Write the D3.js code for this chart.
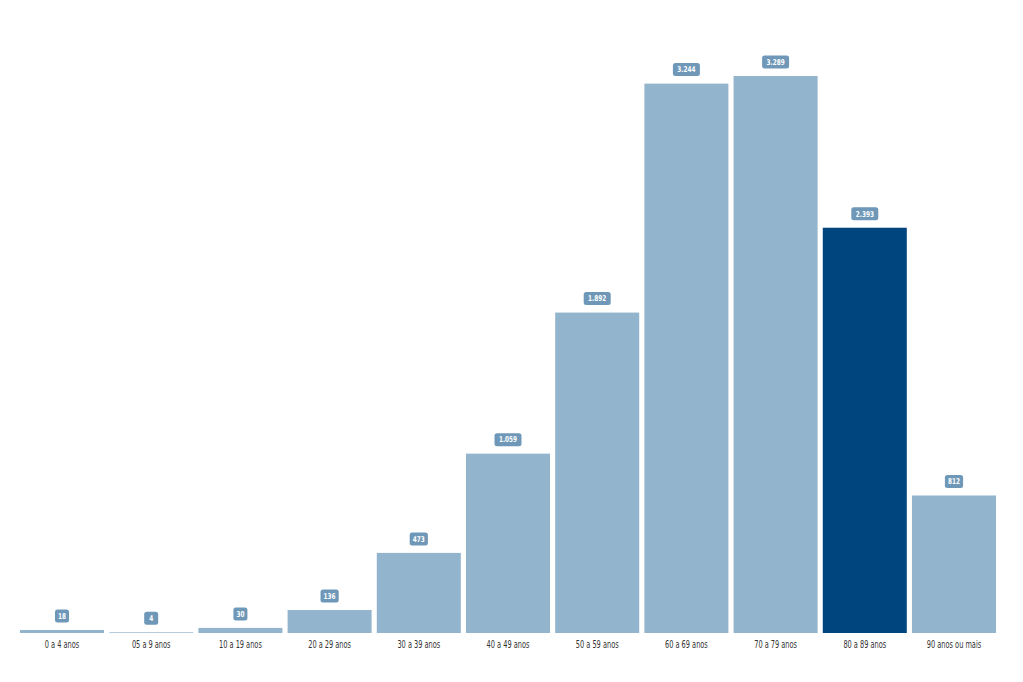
<!DOCTYPE html>
<html><head><meta charset="utf-8">
<script src="https://cdn.jsdelivr.net/npm/d3@7"></script>
<style>
html,body{margin:0;padding:0;background:#fff;}
svg{display:block;}
</style></head>
<body>
<svg id="chart" width="1023" height="682"></svg>
<script>
const categories = ["0 a 4 anos","05 a 9 anos","10 a 19 anos","20 a 29 anos","30 a 39 anos","40 a 49 anos","50 a 59 anos","60 a 69 anos","70 a 79 anos","80 a 89 anos","90 anos ou mais"];
const values = [18, 4, 30, 136, 473, 1059, 1892, 3244, 3289, 2393, 812];
const highlighted = ["80 a 89 anos"];

const svg = d3.select("#chart");
const baseY = 633;
const x = d3.scaleBand().domain(categories).range([20, 996]).paddingInner(0.058).paddingOuter(0);
const y = d3.scaleLinear().domain([0, 3289]).range([baseY, 76]);
const fmt = v => d3.format(",")(v).replace(/,/g, ".");
const font = "'DejaVu Sans',sans-serif";

svg.selectAll("rect.bar").data(values).join("rect")
  .attr("class","bar")
  .attr("x",(d,i)=>x(categories[i]))
  .attr("width",x.bandwidth())
  .attr("y",d=>y(d))
  .attr("height",d=>baseY-y(d))
  .attr("fill",(d,i)=>highlighted.includes(categories[i]) ? "#00457e" : "#93b4cd");

const lab = svg.selectAll("g.lab").data(values).join("g")
  .attr("class","lab")
  .attr("transform",(d,i)=>`translate(${x(categories[i])+x.bandwidth()/2},${y(d)-14})`);
const boxW = d => Math.max(14, fmt(d).length*4.4+5);
lab.append("rect")
  .attr("x",d=>-boxW(d)/2)
  .attr("width",d=>boxW(d))
  .attr("y",-6.5).attr("height",13).attr("rx",2.5)
  .attr("fill","#6f98b8");
lab.append("text")
  .attr("text-anchor","middle").attr("dy","0.35em")
  .attr("transform","scale(0.72,1)")
  .attr("font-family",font).attr("font-size",8).attr("font-weight","bold")
  .attr("fill","#fff")
  .text(d=>fmt(d));

const xAxis = d3.axisBottom(x).tickSize(0).tickPadding(8);
const ax = svg.append("g").attr("transform",`translate(0,${baseY})`).call(xAxis);
ax.select(".domain").remove();
ax.selectAll("text").attr("font-family",font).attr("font-size",10).attr("fill","#333")
  .attr("transform","scale(0.66,1)");
</script>
</body></html>
